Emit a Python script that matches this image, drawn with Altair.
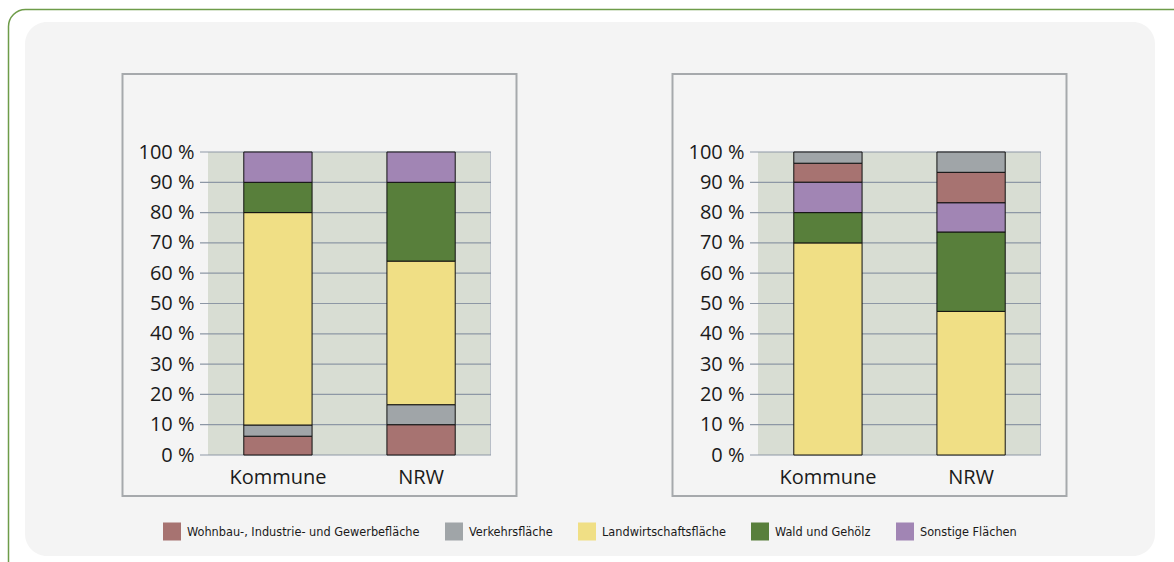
import altair as alt
import pandas as pd

# ---------------- data ----------------
categories = [
    "Wohnbau-, Industrie- und Gewerbefläche",
    "Verkehrsfläche",
    "Landwirtschaftsfläche",
    "Wald und Gehölz",
    "Sonstige Flächen",
]
colors = ["#a77371", "#a0a5a8", "#f0df85", "#587f3b", "#a185b4"]
regions = ["Kommune", "NRW"]

# left panel (percent shares, same order as categories)
left_kommune = [6.2, 3.7, 70.1, 10.0, 10.0]
left_nrw = [10.0, 6.6, 47.4, 26.0, 10.0]
left_order = [0, 1, 2, 3, 4]          # stacking order bottom -> top

# right panel
right_kommune = [6.3, 3.7, 70.0, 10.0, 10.0]
right_nrw = [10.1, 6.7, 47.4, 26.2, 9.6]
right_order = [3, 4, 0, 1, 2]

tick_values = [0, 10, 20, 30, 40, 50, 60, 70, 80, 90, 100]

FONT = "Open Sans"
LEGEND_FONT = "DejaVu Sans Condensed, Liberation Sans Narrow, sans-serif"
GRID = "#8d97a5"
one = pd.DataFrame({"k": [0]})


def panel(vals_k, vals_n, order, dx):
    rows = []
    for reg, vals in zip(regions, [vals_k, vals_n]):
        for c, v, o in zip(categories, vals, order):
            rows.append({"region": reg, "cat": c, "value": v, "ord": o})
    df = pd.DataFrame(rows)

    yscale = alt.Scale(domain=[0, 100], range=[455, 152], nice=False, zero=True)
    xscale = alt.Scale(domain=regions, range=[208 + dx, 491 + dx],
                       paddingInner=0.523, paddingOuter=0.25)
    yaxis = alt.Axis(orient="left", offset=-(208 + dx), values=tick_values,
                     labelExpr="datum.value + ' %'", zindex=2,
                     domain=False, ticks=False, tickSize=0,
                     labelPadding=14, labelFont=FONT, labelFontSize=20,
                     labelColor="#1a1a1a", title=None, grid=False)

    box = alt.Chart(one).mark_rect(fill="#f4f4f4", stroke="#a6a9ac", strokeWidth=2).encode(
        x=alt.value(122.5 + dx), x2=alt.value(516.5 + dx),
        y=alt.value(74), y2=alt.value(496))
    plotbg = alt.Chart(one).mark_rect(fill="#d8ddd3").encode(
        x=alt.value(208 + dx), x2=alt.value(491 + dx),
        y=alt.value(152), y2=alt.value(455))
    edge = alt.Chart(one).mark_rule(color="#b8bec7", strokeWidth=1).encode(
        x=alt.value(490.5 + dx), y=alt.value(152), y2=alt.value(455))
    grid = alt.Chart(pd.DataFrame({"t": tick_values})).mark_rule(
        color=GRID, strokeWidth=1.2).encode(
        y=alt.Y("t:Q", scale=yscale, axis=yaxis, title=None),
        x=alt.value(200 + dx), x2=alt.value(491 + dx))
    bars = alt.Chart(df).mark_bar(stroke="#111111", strokeWidth=1).encode(
        x=alt.X("region:N", scale=xscale, sort=regions,
                axis=alt.Axis(orient="bottom", offset=-107, labelAngle=0,
                              domain=False, ticks=False, tickSize=0, zindex=2,
                              labelPadding=12, labelFont=FONT, labelFontSize=20,
                              labelColor="#1a1a1a", title=None, grid=False)),
        y=alt.Y("value:Q", stack="zero", scale=yscale, axis=yaxis, title=None),
        color=alt.Color("cat:N", scale=alt.Scale(domain=categories, range=colors),
                        legend=alt.Legend(orient="none", legendX=163, legendY=522.5,
                                          direction="horizontal", title=None,
                                          symbolType="square", symbolSize=324,
                                          symbolStrokeWidth=0, symbolOpacity=1,
                                          labelFont=LEGEND_FONT, labelFontSize=12.6,
                                          labelColor="#1a1a1a", labelOffset=6,
                                          columnPadding=25, labelLimit=400)),
        order=alt.Order("ord:Q", sort="ascending"),
    )
    return alt.layer(box, plotbg, edge, grid, bars)


# page decoration
green = alt.Chart(one).mark_rect(cornerRadius=17, fill="white", stroke="#6e9c49",
                                 strokeWidth=1.5).encode(
    x=alt.value(8.5), x2=alt.value(1200), y=alt.value(9.5), y2=alt.value(600))
inner = alt.Chart(one).mark_rect(cornerRadius=22, fill="#f4f4f4").encode(
    x=alt.value(25), x2=alt.value(1155), y=alt.value(22), y2=alt.value(556))

left = panel(left_kommune, left_nrw, left_order, 0)
right = panel(right_kommune, right_nrw, right_order, 550)

chart = (
    alt.layer(green, inner, left, right)
    .resolve_scale(x="independent", y="independent")
    .resolve_axis(x="independent", y="independent")
    .properties(width=1174, height=562, padding=0, background="white",
                autosize=alt.AutoSizeParams(type="none"))
    .configure_view(strokeWidth=0)
)

chart.save("out.html", embed_options={"renderer": "svg", "actions": False})
